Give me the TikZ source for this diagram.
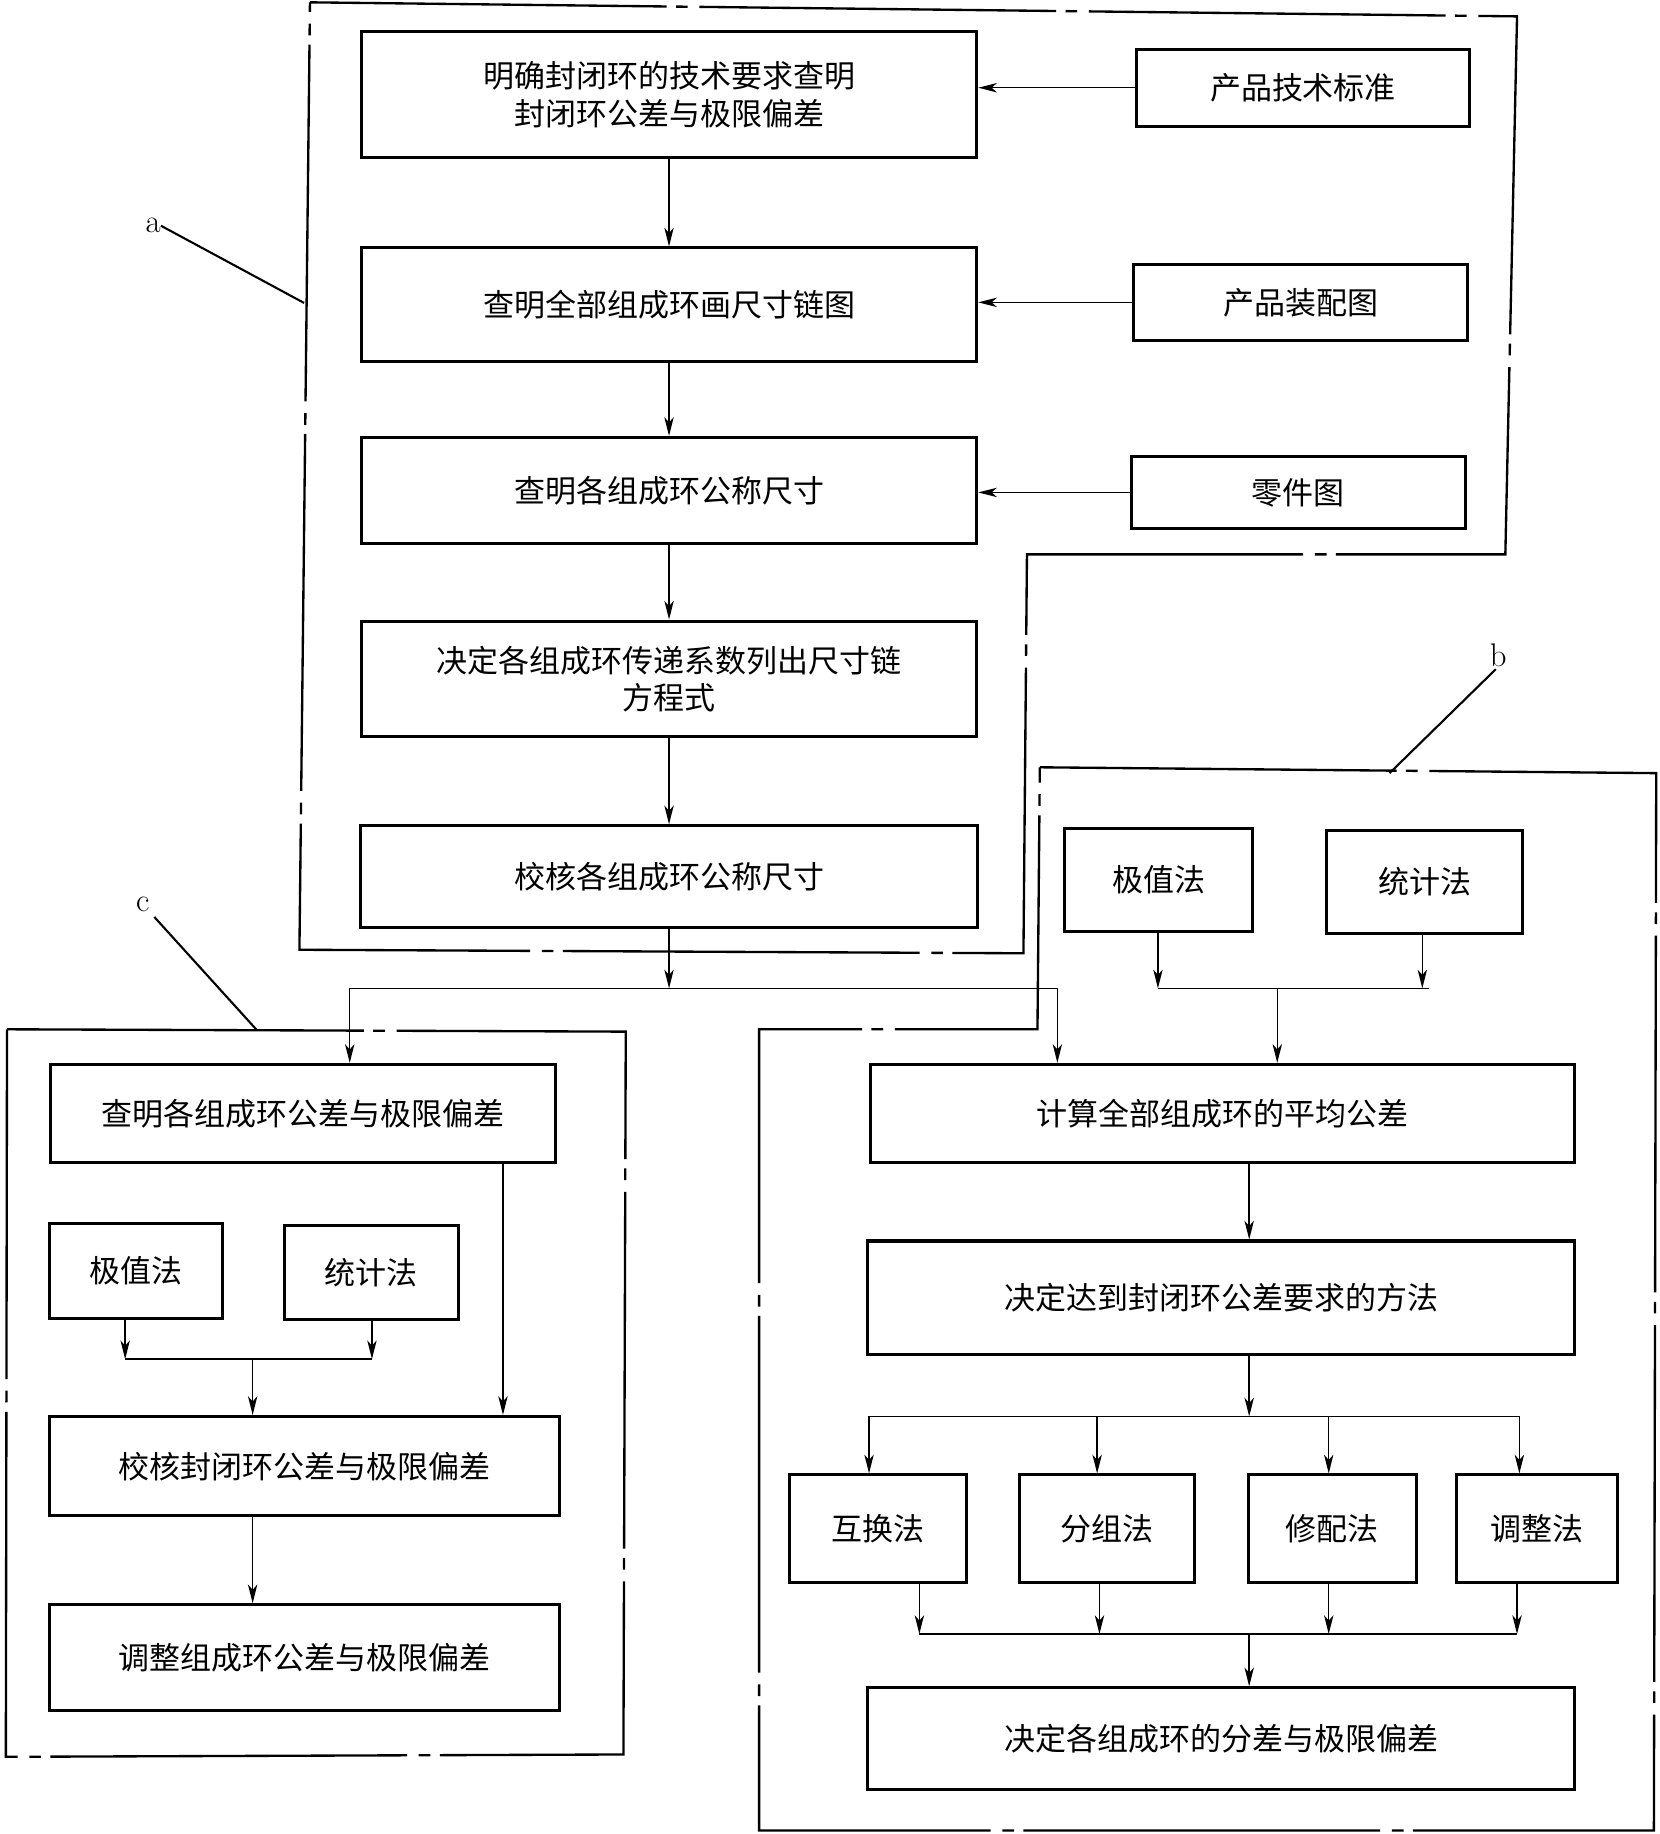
\documentclass[tikz,border=0pt]{standalone}
\usepackage{fontspec}
\newfontfamily\cjk{Noto Sans CJK SC}
\usetikzlibrary{arrows.meta}
\begin{document}
\begin{tikzpicture}[x=1pt,y=-1pt,
  box/.style={draw, line width=2.6pt, inner sep=0pt, font=\cjk\fontsize{26.5pt}{32pt}\selectfont, align=center},
  arr/.style={line width=1.3pt, -{Stealth[length=16pt,width=8pt,inset=4.5pt]}},
  ln/.style={line width=1.3pt},
  frm/.style={line width=2pt, dash pattern=on 305pt off 8pt on 10pt off 10pt, line join=miter},
  lead/.style={line width=1.8pt},
  lbl/.style={font=\fontsize{28pt}{32pt}\selectfont, inner sep=0pt}]
\useasboundingbox (0,0) rectangle (1419,1568);

% frames
\draw[frm] (265,2) -- (1297,14) -- (1287,474) -- (878,474) -- (875,815) -- (256,812) -- cycle;
\draw[frm] (889,656) -- (1416,661) -- (1414,1565) -- (649,1565) -- (649,880) -- (887,880) -- cycle;
\draw[frm] (6,880) -- (535,882) -- (533,1500) -- (5,1502) -- cycle;

% labels
\node[lbl] (la) at (131,193) {a};
\coordinate (fa) at (260,259);
\draw[lead] (la.east) -- (fa);
\node[lbl] (lc) at (122,773) {c};
\coordinate (fc) at (219,880);
\draw[lead, shorten <=6pt] (lc.south east) -- (fc);
\node[lbl] (lb) at (1281,560) {b};
\coordinate (fb) at (1188,661);
\draw[lead, shorten <=3pt] (lb.south) -- (fb);

% column a
\node[box, minimum width=526pt, minimum height=108pt] (A1) at (572,81) {明确封闭环的技术要求查明\\封闭环公差与极限偏差};
\node[box, minimum width=526pt, minimum height=97pt] (A2) at (572,260.5) {查明全部组成环画尺寸链图};
\node[box, minimum width=526pt, minimum height=91pt] (A3) at (572,419.5) {查明各组成环公称尺寸};
\node[box, minimum width=526pt, minimum height=99pt] (A4) at (572,580.5) {决定各组成环传递系数列出尺寸链\\方程式};
\node[box, minimum width=528pt, minimum height=87pt] (A5) at (572,749.5) {校核各组成环公称尺寸};

\node[box, minimum width=284pt, minimum height=66pt] (R1) at (1114,75) {产品技术标准};
\node[box, minimum width=286pt, minimum height=65pt] (R2) at (1112,258.5) {产品装配图};
\node[box, minimum width=286pt, minimum height=62pt] (R3) at (1110,421) {零件图};

\draw[arr] (A1.south) -- (A2.north);
\draw[arr] (A2.south) -- (A3.north);
\draw[arr] (A3.south) -- (A4.north);
\draw[arr] (A4.south) -- (A5.north);
\draw[arr] (R1.west) -- (R1.west -| A1.east);
\draw[arr] (R2.west) -- (R2.west -| A2.east);
\draw[arr] (R3.west) -- (R3.west -| A3.east);

% column c
\node[box, minimum width=432pt, minimum height=84pt] (C1) at (259,952) {查明各组成环公差与极限偏差};
\node[box, minimum width=148pt, minimum height=81pt] (CJ) at (116,1086.5) {极值法};
\node[box, minimum width=149pt, minimum height=80pt] (CT) at (317.5,1088) {统计法};
\node[box, minimum width=436pt, minimum height=85pt] (C4) at (260,1253.5) {校核封闭环公差与极限偏差};
\node[box, minimum width=436pt, minimum height=90pt] (C5) at (260,1417) {调整组成环公差与极限偏差};

% column b
\node[box, minimum width=161pt, minimum height=88pt] (BJ) at (990.5,752) {极值法};
\node[box, minimum width=168pt, minimum height=88pt] (BT) at (1218,754) {统计法};
\node[box, minimum width=602pt, minimum height=84pt] (B3) at (1045,952) {计算全部组成环的平均公差};
\node[box, minimum width=604pt, minimum height=97pt] (B4) at (1044,1109.5) {决定达到封闭环公差要求的方法};
\node[box, minimum width=151pt, minimum height=92pt] (M1) at (750.5,1307) {互换法};
\node[box, minimum width=149pt, minimum height=92pt] (M2) at (946.5,1307) {分组法};
\node[box, minimum width=144pt, minimum height=92pt] (M3) at (1139,1307) {修配法};
\node[box, minimum width=138pt, minimum height=92pt] (M4) at (1314,1307) {调整法};
\node[box, minimum width=604pt, minimum height=87pt] (B9) at (1044,1486.5) {决定各组成环的分差与极限偏差};

% split after A5
\coordinate (jA) at (572,845);
\coordinate (jAL) at (299,845);
\coordinate (jAR) at (904,845);
\draw[arr] (A5.south) -- (jA);
\draw[ln] (jAL) -- (jAR);
\draw[arr] (jAL) -- (jAL |- C1.north);
\draw[arr] (jAR) -- (jAR |- B3.north);

% c connectors
\coordinate (cjL) at (107,1162);
\coordinate (cjR) at (318,1162);
\coordinate (cjM) at (216,1162);
\coordinate (cx1) at (430,0);
\draw[arr] (CJ.south -| cjL) -- (cjL);
\draw[arr] (CT.south -| cjR) -- (cjR);
\draw[ln] (cjL) -- (cjR);
\draw[arr] (cjM) -- (cjM |- C4.north);
\draw[arr] (C1.south -| cx1) -- (C4.north -| cx1);
\draw[arr] (C4.south -| cjM) -- (C5.north -| cjM);

% b connectors
\coordinate (bj) at (990,845);
\coordinate (bt) at (1216,845);
\coordinate (btE) at (1222,845);
\coordinate (bm) at (1092,845);
\coordinate (bx) at (1068,0);
\draw[arr] (BJ.south -| bj) -- (bj);
\draw[arr] (BT.south -| bt) -- (bt);
\draw[ln] (bj) -- (btE);
\draw[arr] (bm) -- (bm |- B3.north);
\draw[arr] (B3.south -| bx) -- (B4.north -| bx);

\coordinate (m0) at (1068,1211);
\coordinate (t1) at (743,1211);
\coordinate (t2) at (938,1211);
\coordinate (t3) at (1136,1211);
\coordinate (t4) at (1299,1211);
\draw[arr] (B4.south -| bx) -- (m0);
\draw[ln] (t1) -- (t4);
\draw[arr] (t1) -- (t1 |- M1.north);
\draw[arr] (t2) -- (t2 |- M2.north);
\draw[arr] (t3) -- (t3 |- M3.north);
\draw[arr] (t4) -- (t4 |- M4.north);

\coordinate (u0) at (1068,1397);
\coordinate (u1) at (786,1397);
\coordinate (u2) at (940,1397);
\coordinate (u3) at (1136,1397);
\coordinate (u4) at (1297,1397);
\draw[arr] (M1.south -| u1) -- (u1);
\draw[arr] (M2.south -| u2) -- (u2);
\draw[arr] (M3.south -| u3) -- (u3);
\draw[arr] (M4.south -| u4) -- (u4);
\draw[ln] (u1) -- (u4);
\draw[arr] (u0) -- (B9.north -| u0);
\end{tikzpicture}
\end{document}
